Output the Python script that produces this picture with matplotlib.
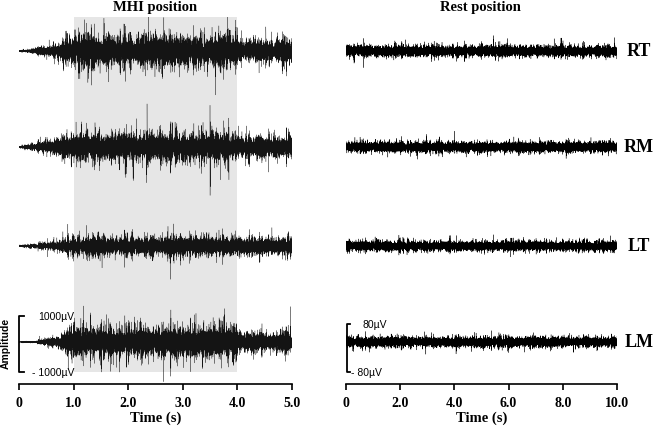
import matplotlib
matplotlib.use("Agg")
import matplotlib.pyplot as plt
import numpy as np

# muscles, top to bottom
muscles = ["RT", "RM", "LT", "LM"]

# MHI position: typical EMG amplitude (uV) at these times
mhi_time = [0.0, 0.3, 0.7, 1.0, 2.5, 4.0, 4.05, 5.0]
mhi_amp = {
    "RT": [8, 40, 100, 200, 210, 200, 150, 150],
    "RM": [12, 55, 110, 180, 185, 180, 150, 150],
    "LT": [8, 30, 65, 125, 130, 125, 115, 115],
    "LM": [4, 12, 80, 200, 210, 200, 125, 125],
}
# rest position: amplitude stays flat over the 10 s recording
rest_time = [0.0, 10.0]
rest_amp = {
    "RT": [7.0, 7.0],
    "RM": [7.0, 7.0],
    "LT": [6.5, 6.5],
    "LM": [6.5, 6.5],
}

mhi_xticks = [0, 1, 2, 3, 4, 5]
mhi_xlabels = ["0", "1.0", "2.0", "3.0", "4.0", "5.0"]
rest_xticks = [0, 2, 4, 6, 8, 10]
rest_xlabels = ["0", "2.0", "4.0", "6.0", "8.0", "10.0"]

fs = 3000  # samples per second
rng = np.random.default_rng(5)

W, H = 658, 431
fig = plt.figure(figsize=(W / 100, H / 100), dpi=100)

serif = "Liberation Serif"
sans = "Liberation Sans"

# vertical layout in pixels
y_bot, y_top = 385, 18
row_px = [52, 148, 247, 343]


def make_axes(x0, x1, uv_per_px):
    ax = fig.add_axes([x0 / W, 1 - y_bot / H, (x1 - x0) / W, (y_bot - y_top) / H])
    ax.set_ylim(0, (y_bot - y_top) * uv_per_px)
    for s in ["left", "right", "top"]:
        ax.spines[s].set_visible(False)
    ax.spines["bottom"].set_linewidth(1.2)
    ax.set_yticks([])
    ax.tick_params(axis="x", direction="out", length=4, width=1.2, pad=5)
    return ax


def emg(n, block, spread):
    # gaussian carrier with bursty (log-normal) motor-unit modulation
    nb = n // block + 1
    mod = np.repeat(rng.lognormal(0, spread, nb), block)[:n]
    return rng.standard_normal(n) * mod


left_scale = 2000 / 56.0
right_scale = 160 / 48.0
ax1 = make_axes(19, 292, left_scale)
ax2 = make_axes(346, 617, right_scale)

ax1.axvspan(1.0, 4.0, ymin=12 / 367, ymax=1, color="#e6e6e6", lw=0, zorder=0)

t1 = np.arange(0, 5.0, 1.0 / fs)
t2 = np.arange(0, 10.0, 1.0 / 1500)
for i, m in enumerate(muscles):
    c1 = (y_bot - row_px[i]) * left_scale
    c2 = (y_bot - row_px[i]) * right_scale
    env1 = np.interp(t1, mhi_time, mhi_amp[m])
    env2 = np.interp(t2, rest_time, rest_amp[m])
    sig1 = env1 * emg(t1.size, 18, 0.36)
    sig2 = env2 * emg(t2.size, 15, 0.3)
    ax1.plot(t1, c1 + sig1, color="#141414", lw=0.2, zorder=2)
    ax2.plot(t2, c2 + sig2, color="black", lw=0.25, zorder=2)
    fig.text(639 / W, 1 - row_px[i] / H, m, ha="center", va="center",
             fontsize=13, fontweight="bold", family=serif)

ax1.set_xlim(0, 5)
ax2.set_xlim(0, 10)
for ax, ticks, labels in [(ax1, mhi_xticks, mhi_xlabels), (ax2, rest_xticks, rest_xlabels)]:
    ax.set_xticks(ticks)
    ax.set_xticklabels(labels, fontsize=10, fontweight="bold", family=serif)
    ax.set_xlabel("Time (s)", fontsize=10.5, fontweight="bold", family=serif, labelpad=1)

fig.text(155 / W, 1 - 8 / H, "MHI position", ha="center", va="center",
         fontsize=10.5, fontweight="bold", family=serif)
fig.text(480 / W, 1 - 8 / H, "Rest position", ha="center", va="center",
         fontsize=10.5, fontweight="bold", family=serif)

# amplitude scale bars
bar_c1 = (y_bot - 345) * left_scale
ax1.plot([0.09, 0.0, 0.0, 0.09],
         [bar_c1 + 1000, bar_c1 + 1000, bar_c1 - 1000, bar_c1 - 1000],
         color="black", lw=1.3, clip_on=False)
ax1.text(0.35, bar_c1 + 1000, "1000µV", fontsize=7.5, family=sans, va="center")
ax1.text(0.24, bar_c1 - 1000, "- 1000µV", fontsize=7.5, family=sans, va="center")
fig.text(6 / W, 1 - 343 / H, "Amplitude", rotation=90, ha="center", va="center",
         fontsize=7.5, fontweight="bold", family=sans)

bar_c2 = (y_bot - 349) * right_scale
ax2.plot([0.14, 0.03, 0.03, 0.14],
         [bar_c2 + 80, bar_c2 + 80, bar_c2 - 80, bar_c2 - 80],
         color="black", lw=1.3, clip_on=False)
ax2.text(0.6, bar_c2 + 80, "80µV", fontsize=7.5, family=sans, va="center")
ax2.text(0.2, bar_c2 - 80, "- 80µV", fontsize=7.5, family=sans, va="center")

fig.savefig("out.png", dpi=100)
